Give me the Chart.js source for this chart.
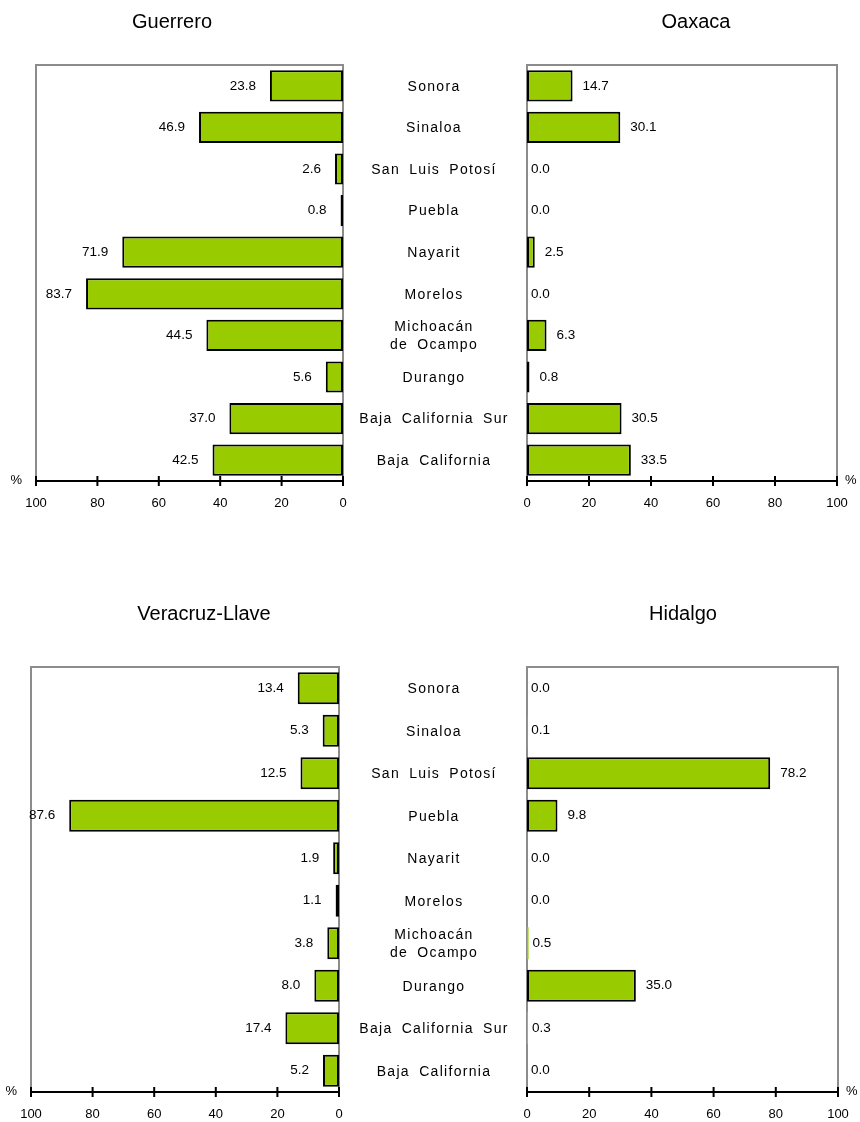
<!DOCTYPE html>
<html>
<head>
<meta charset="utf-8">
<script src="https://cdn.jsdelivr.net/npm/chart.js@4.4.1/dist/chart.umd.min.js"></script>
<style>
  html, body { margin: 0; padding: 0; background: #fff; }
  #page { position: relative; width: 860px; height: 1122px; overflow: hidden; }
  canvas { position: absolute; }
</style>
</head>
<body>
<div id="page">
  <canvas id="guerrero" width="380" height="520" style="left:0;top:0"></canvas>
  <canvas id="oaxaca" width="540" height="520" style="left:345px;top:0"></canvas>
  <canvas id="veracruz" width="380" height="532" style="left:0;top:590px"></canvas>
  <canvas id="hidalgo" width="540" height="532" style="left:345px;top:590px"></canvas>
</div>
<script>
const categories = ['Sonora', 'Sinaloa', 'San Luis Potosí', 'Puebla', 'Nayarit', 'Morelos',
    ['Michoacán', 'de Ocampo'], 'Durango', 'Baja California Sur', 'Baja California'];

const guerrero = [23.8, 46.9, 2.6, 0.8, 71.9, 83.7, 44.5, 5.6, 37.0, 42.5];
const oaxaca   = [14.7, 30.1, 0.0, 0.0, 2.5, 0.0, 6.3, 0.8, 30.5, 33.5];
const veracruz = [13.4, 5.3, 12.5, 87.6, 1.9, 1.1, 3.8, 8.0, 17.4, 5.2];
const hidalgo  = [0.0, 0.1, 78.2, 9.8, 0.0, 0.0, 0.5, 35.0, 0.3, 0.0];

const xTicks = [0, 20, 40, 60, 80, 100];

const FONT = '"Liberation Sans", Arial, Helvetica, sans-serif';
Chart.defaults.font.family = FONT;
Chart.defaults.color = '#000';

// frame, axis with crossing ticks, value labels, category names, titles
const panelPlugin = {
    id: 'panel',
    beforeDatasetsDraw(chart) {
        const a = chart.chartArea, ctx = chart.ctx;
        ctx.save();
        ctx.strokeStyle = '#8c8c8c';
        ctx.lineWidth = 2;
        ctx.beginPath();
        ctx.moveTo(a.left, a.bottom);
        ctx.lineTo(a.left, a.top);
        ctx.lineTo(a.right, a.top);
        ctx.lineTo(a.right, a.bottom);
        ctx.stroke();
        ctx.restore();
    },
    afterDraw(chart, args, o) {
        const ctx = chart.ctx, a = chart.chartArea;
        const x = chart.scales.x, y = chart.scales.y;
        const left = o.side === 'left';
        ctx.save();

        ctx.strokeStyle = '#000';
        ctx.lineWidth = 2;
        ctx.beginPath();
        ctx.moveTo(a.left - 1, a.bottom);
        ctx.lineTo(a.right + 1, a.bottom);
        x.ticks.forEach(t => {
            const px = x.getPixelForValue(t.value);
            ctx.moveTo(px, a.bottom - 5);
            ctx.lineTo(px, a.bottom + 5);
        });
        ctx.stroke();

        ctx.fillStyle = '#000';
        ctx.textBaseline = 'middle';
        ctx.font = '13px ' + FONT;
        ctx.textAlign = left ? 'right' : 'left';
        ctx.fillText('%', left ? a.left - 14 : a.right + 8, a.bottom - 1);

        const meta = chart.getDatasetMeta(0);
        const vals = chart.data.datasets[0].data;
        ctx.font = '13.5px ' + FONT;
        meta.data.forEach((bar, i) => {
            const w = Math.abs(bar.x - bar.base);
            const txt = vals[i].toFixed(1);
            if (left) {
                ctx.textAlign = 'right';
                ctx.fillText(txt, bar.x - 14, bar.y);
            } else {
                ctx.textAlign = 'left';
                ctx.fillText(txt, bar.x + (w >= 2 ? 10 : 4), bar.y);
            }
        });

        if (o.categories) {
            ctx.font = '14px ' + FONT;
            ctx.textAlign = 'center';
            ctx.letterSpacing = '1.3px';
            ctx.wordSpacing = '4px';
            const cx = a.left - 93;
            chart.data.labels.forEach((lab, i) => {
                const lines = [].concat(lab);
                const cy = y.getPixelForValue(i);
                lines.forEach((ln, j) => {
                    ctx.fillText(ln, cx, cy + 1 + (j - (lines.length - 1) / 2) * 18);
                });
            });
            ctx.letterSpacing = '0px';
            ctx.wordSpacing = '0px';
        }

        ctx.font = '20px ' + FONT;
        ctx.textAlign = 'center';
        ctx.fillText(o.title, o.titleX, o.titleY);
        ctx.restore();
    }
};

function makePanel(id, values, p) {
    return new Chart(document.getElementById(id), {
        type: 'bar',
        data: {
            labels: categories,
            datasets: [{
                data: values,
                backgroundColor: '#99cc00',
                borderColor: '#000',
                borderWidth: c => (c.raw > 0.6 ? 2 : 0),
                borderSkipped: false,
                barPercentage: 0.75,
                categoryPercentage: 1
            }]
        },
        options: {
            indexAxis: 'y',
            responsive: false,
            animation: false,
            events: [],
            layout: { padding: p.padding },
            plugins: {
                legend: { display: false },
                tooltip: { enabled: false },
                panel: {
                    side: p.side,
                    categories: p.side === 'right',
                    title: p.title,
                    titleX: p.titleX,
                    titleY: p.titleY
                }
            },
            scales: {
                x: {
                    type: 'linear',
                    min: 0,
                    max: 100,
                    reverse: p.side === 'left',
                    afterBuildTicks: s => { s.ticks = xTicks.map(v => ({ value: v })); },
                    afterFit: s => { s.height = p.axisH; },
                    ticks: { font: { size: 13 }, color: '#000', padding: 15 },
                    grid: { display: false, drawTicks: false },
                    border: { display: false }
                },
                y: { display: false }
            }
        },
        plugins: [panelPlugin]
    });
}

makePanel('guerrero', guerrero, {
    side: 'left', title: 'Guerrero', titleX: 172, titleY: 22, axisH: 39,
    padding: { left: 36, right: 37, top: 65, bottom: 0 }
});
makePanel('oaxaca', oaxaca, {
    side: 'right', title: 'Oaxaca', titleX: 351, titleY: 22, axisH: 39,
    padding: { left: 182, right: 48, top: 65, bottom: 0 }
});
makePanel('veracruz', veracruz, {
    side: 'left', title: 'Veracruz-Llave', titleX: 204, titleY: 24, axisH: 30,
    padding: { left: 31, right: 41, top: 77, bottom: 0 }
});
makePanel('hidalgo', hidalgo, {
    side: 'right', title: 'Hidalgo', titleX: 338, titleY: 24, axisH: 30,
    padding: { left: 182, right: 47, top: 77, bottom: 0 }
});
</script>
</body>
</html>
